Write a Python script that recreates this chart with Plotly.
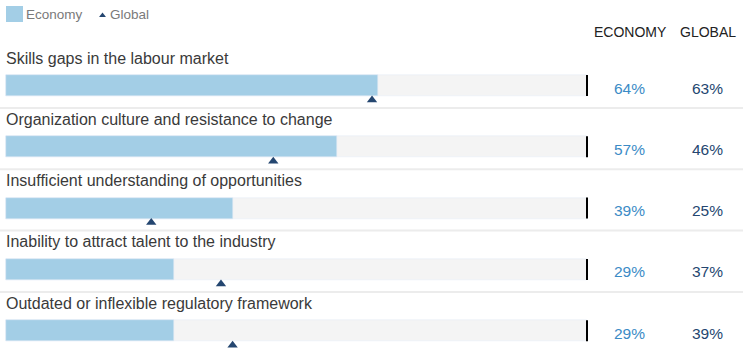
import plotly.graph_objects as go

categories = [
    "Skills gaps in the labour market",
    "Organization culture and resistance to change",
    "Insufficient understanding of opportunities",
    "Inability to attract talent to the industry",
    "Outdated or inflexible regulatory framework",
]
economy = [64, 57, 39, 29, 29]
global_vals = [63, 46, 25, 37, 39]

W, H = 743, 349
X0, XPX = 6, 5.81          # pixel of 0%, pixels per %
ROW0, ROWH = 85.5, 61.3    # pixel centre of first bar, row spacing

BAR_BLUE = "#a3cee6"
TRACK = "#f4f4f4"
DARK = "#244670"
MID = "#3b8bc6"
FONT = "Liberation Sans, Arial, sans-serif"

def px_x(p):
    return p / W
def px_y(p):
    return 1 - p / H

idx = list(range(len(categories)))
fig = go.Figure()

fig.add_trace(go.Bar(x=[100] * len(idx), y=idx, orientation="h", marker_color=TRACK,
                     width=21 / ROWH, showlegend=False, hoverinfo="skip"))
fig.add_trace(go.Bar(x=economy, y=idx, orientation="h", marker_color=BAR_BLUE,
                     width=21 / ROWH, showlegend=False, name="Economy"))
fig.add_trace(go.Scatter(x=global_vals, y=[i + 14.5 / ROWH for i in idx], mode="markers",
                         marker=dict(symbol="triangle-up", size=9, color=DARK),
                         showlegend=False, name="Global"))

shapes = []
annotations = []
for i, cat in enumerate(categories):
    shapes.append(dict(type="line", xref="x", yref="y", x0=100, x1=100,
                       y0=i - 10.5 / ROWH, y1=i + 10.5 / ROWH,
                       line=dict(color="black", width=2)))
    if i < len(categories) - 1:
        shapes.append(dict(type="line", xref="paper", yref="y", x0=0, x1=1,
                           y0=i + 22.5 / ROWH, y1=i + 22.5 / ROWH,
                           line=dict(color="#ececec", width=2)))
    annotations.append(dict(xref="paper", yref="y", x=px_x(4), y=i - 27.5 / ROWH, text=cat,
                            xanchor="left", yanchor="middle", showarrow=False,
                            font=dict(family=FONT, size=16, color="#3a3a3a")))
    annotations.append(dict(xref="paper", yref="y", x=px_x(629.5), y=i + 2.5 / ROWH,
                            text=f"{economy[i]}%", xanchor="center", yanchor="middle",
                            showarrow=False, font=dict(family=FONT, size=15.5, color=MID)))
    annotations.append(dict(xref="paper", yref="y", x=px_x(707.5), y=i + 2.5 / ROWH,
                            text=f"{global_vals[i]}%", xanchor="center", yanchor="middle",
                            showarrow=False, font=dict(family=FONT, size=15.5, color=DARK)))

annotations.append(dict(xref="paper", yref="paper", x=px_x(630), y=px_y(32), text="ECONOMY",
                        xanchor="center", yanchor="middle", showarrow=False,
                        font=dict(family=FONT, size=14, color="#222222")))
annotations.append(dict(xref="paper", yref="paper", x=px_x(707.5), y=px_y(32), text="GLOBAL",
                        xanchor="center", yanchor="middle", showarrow=False,
                        font=dict(family=FONT, size=14, color="#222222")))

shapes.append(dict(type="rect", xref="paper", yref="paper", x0=px_x(6), x1=px_x(23),
                   y0=px_y(22), y1=px_y(6), fillcolor=BAR_BLUE, line=dict(width=0)))
annotations.append(dict(xref="paper", yref="paper", x=px_x(24), y=px_y(14), text="Economy",
                        xanchor="left", yanchor="middle", showarrow=False,
                        font=dict(family=FONT, size=13.5, color="#7a7a7a")))
annotations.append(dict(xref="paper", yref="paper", x=px_x(108), y=px_y(14), text="Global",
                        xanchor="left", yanchor="middle", showarrow=False,
                        font=dict(family=FONT, size=13.5, color="#7a7a7a")))
fig.add_trace(go.Scatter(x=[(102.5 - X0) / XPX], y=[(15.5 - ROW0) / ROWH], mode="markers",
                         marker=dict(symbol="triangle-up", size=6, color=DARK),
                         showlegend=False, hoverinfo="skip"))

fig.update_layout(
    width=W, height=H, margin=dict(l=0, r=0, t=0, b=0),
    paper_bgcolor="white", plot_bgcolor="white",
    barmode="overlay", bargap=0,
    xaxis=dict(range=[-X0 / XPX, (W - X0) / XPX], visible=False, fixedrange=True),
    yaxis=dict(range=[(H - ROW0) / ROWH, -ROW0 / ROWH], visible=False, fixedrange=True),
    shapes=shapes, annotations=annotations,
)

fig.write_html("out.html", config={"displayModeBar": False},
               post_script="document.body.style.margin='0';document.body.style.overflow='hidden';")
